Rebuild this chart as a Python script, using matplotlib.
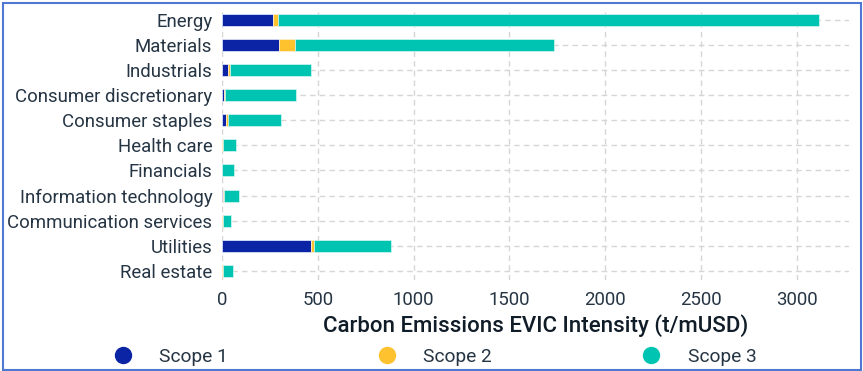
import matplotlib
matplotlib.use("Agg")
import matplotlib.pyplot as plt
from matplotlib.lines import Line2D
from matplotlib.patches import Rectangle
import numpy as np

plt.rcParams['font.family'] = ['Roboto', 'DejaVu Sans']

categories = ["Energy", "Materials", "Industrials", "Consumer discretionary",
              "Consumer staples", "Health care", "Financials",
              "Information technology", "Communication services",
              "Utilities", "Real estate"]
scope1 = [268, 299, 32, 8, 22, 2, 1, 3, 2, 462, 2]
scope2 = [23, 83, 10, 9, 8, 3, 1, 6, 5, 17, 5]
scope3 = [2827, 1350, 422, 370, 277, 70, 62, 81, 41, 404, 49]
series_labels = ["Scope 1", "Scope 2", "Scope 3"]
x_ticks = [0, 500, 1000, 1500, 2000, 2500, 3000]
xlabel = "Carbon Emissions EVIC Intensity (t/mUSD)"

colors = ["#0b24a6", "#fdc22e", "#00c4b2"]
text_color = "#263544"

W, H = 863, 371
fig = plt.figure(figsize=(W / 100, H / 100), dpi=100)
ax = fig.add_axes([222 / W, 1 - 280 / H, (849 - 222) / W, (280 - 8) / H])

y = np.arange(len(categories))
s1 = np.array(scope1)
s2 = np.array(scope2)
s3 = np.array(scope3)
h = 0.48
ax.barh(y, s1, height=h, color=colors[0], edgecolor="#e8f0ff", linewidth=0.5, zorder=3)
ax.barh(y, s2, left=s1, height=h, color=colors[1], edgecolor="#fff4d8", linewidth=0.5, zorder=3)
ax.barh(y, s3, left=s1 + s2, height=h, color=colors[2], edgecolor="#d8f6f3", linewidth=0.5, zorder=3)

ax.set_xlim(0, 3273)
ax.set_ylim(10.37, -0.48)
ax.set_yticks(y)
ax.set_yticklabels(categories)
ax.set_xticks(x_ticks)
ax.tick_params(axis='both', length=0, labelsize=13.4, colors=text_color)
ax.tick_params(axis='y', pad=7)
ax.tick_params(axis='x', pad=8)
for s in ax.spines.values():
    s.set_visible(False)
ax.grid(True, color="#d6d6d6", linestyle=(0, (4, 3)), linewidth=1.0, zorder=0)
ax.set_axisbelow(True)
ax.set_xlabel(xlabel, fontsize=16, fontweight='medium', color="#101c28", labelpad=4)

handles = [Line2D([0], [0], marker='o', linestyle='none', markersize=11.5,
                  markerfacecolor=c, markeredgecolor=c) for c in colors]
fig.legend(handles, series_labels, loc='center', bbox_to_anchor=(430 / W, 1 - 357 / H),
           ncol=3, frameon=False, fontsize=13.8, labelcolor=text_color,
           handletextpad=0.9, columnspacing=7.3, handlelength=2.0, borderpad=0)

fig.patches.append(Rectangle((2.5 / W, 1.5 / H), (858 / W), (366.5 / H),
                             transform=fig.transFigure, fill=False,
                             edgecolor="#4f78d2", linewidth=1.5, zorder=10))

fig.savefig("out.png", dpi=100)
